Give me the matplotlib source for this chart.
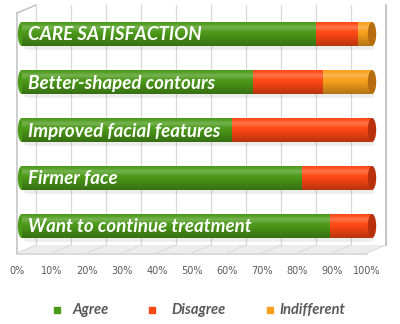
import numpy as np
import matplotlib.pyplot as plt
from matplotlib.patches import Ellipse, Polygon, FancyBboxPatch

# survey answers, percent of respondents
categories = ["CARE SATISFACTION", "Better-shaped contours", "Improved facial features",
              "Firmer face", "Want to continue treatment"]
agree = [84, 66, 60, 80, 88]
disagree = [12, 20, 40, 20, 12]
indifferent = [4, 14, 0, 0, 0]
series_names = ["Agree", "Disagree", "Indifferent"]
tick_labels = ["0%", "10%", "20%", "30%", "40%", "50%", "60%", "70%", "80%", "90%", "100%"]

colors = ["#4c9a1a", "#ff4914", "#f8a01c"]
cap_colors = ["#3a7a12", "#b8300c", "#b86c10"]

W, H = 400, 324
px_per_pct = 3.5
x0_px = 22


def X(px):
    return (px - x0_px) / px_per_pct


fig = plt.figure(figsize=(W / 100, H / 100), dpi=100)
ax = fig.add_axes([0, 0, 1, 1])
ax.set_xlim(X(0), X(W))
ax.set_ylim(H, 0)
ax.axis("off")

depth = 4.0   # 3d depth of the wall, in percent units
dy = 8        # and in pixels vertically
top, floor = 5, 245

# floor
floor_poly = Polygon([(X(17), floor + dy), (100 - 1.4, floor + dy), (100 + depth, floor),
                      (depth, floor)], closed=True, facecolor="#ececec", edgecolor="none", zorder=0)
ax.add_patch(floor_poly)
ax.plot([X(17), 100 - 1.4], [floor + dy + 0.5] * 2, color="#d4d4d4", lw=1.2, zorder=1)

# back wall gridlines and floor lines
for k in range(11):
    gx = k * 10 + depth
    ax.plot([gx, gx], [top, floor], color="#d9d9d9", lw=0.9, zorder=1)
    ax.plot([gx, gx - depth - 1.4], [floor, floor + dy], color="#dcdcdc", lw=0.8, zorder=1)
ax.plot([100 + depth] * 2, [top, floor], color="#bfbfbf", lw=1.2, zorder=1)
# left wall
ax.plot([X(17), X(17)], [top + dy, floor + dy], color="#c0c0c0", lw=1.1, zorder=1)
ax.plot([X(17), depth], [top + dy, top], color="#c0c0c0", lw=1.1, zorder=1)

# shading overlay for the cylinders
grad = np.linspace(0, 1, 64).reshape(-1, 1)
shade = np.zeros((64, 1, 4))
shade[..., 3] = np.clip(0.28 * (grad[:, 0] - 0.45) / 0.55, 0, None)[:, None]
hl = np.zeros((64, 1, 4))
hl[..., :3] = 1.0
hl[..., 3] = (0.22 * np.exp(-((grad[:, 0] - 0.22) / 0.12) ** 2))[:, None]

y_centers = [34, 82, 130, 178, 226]
bar_h = 24
cap_w = 2.4

for yc, name, vals in zip(y_centers, categories, zip(agree, disagree, indifferent)):
    # soft shadow under the bar
    ax.add_patch(FancyBboxPatch((0.5, yc + bar_h / 2 - 1), 100, 5,
                                boxstyle="round,pad=0,rounding_size=2",
                                facecolor="#000000", alpha=0.07, edgecolor="none", zorder=2))
    left = 0
    last = max(i for i, v in enumerate(vals) if v > 0)
    for i, v in enumerate(vals):
        if v == 0:
            continue
        b = ax.barh(yc, v, left=left, height=bar_h, color=colors[i], edgecolor="none", zorder=3)[0]
        for img in (shade, hl):
            im = ax.imshow(img, extent=(left, left + v, yc + bar_h / 2, yc - bar_h / 2),
                           aspect="auto", zorder=4, interpolation="bilinear")
            im.set_clip_path(b)
        left += v
    # rounded left end
    ax.add_patch(Ellipse((0, yc), cap_w, bar_h, facecolor=colors[0], edgecolor="none", zorder=3))
    # end cap
    ax.add_patch(Ellipse((100, yc), cap_w, bar_h, facecolor=cap_colors[last],
                         edgecolor="none", zorder=5))
    ax.text(X(28), yc + 1, name, color="white", fontsize=13.5, fontweight="bold",
            fontstyle="italic", family="Lato", va="center", ha="left", zorder=6)

# value axis labels
for k, lab in enumerate(tick_labels):
    ax.text(X(17) + k * 10, 271, lab, fontsize=7, color="#595959", ha="center", va="center")

# legend
legend_px = [(57, 73), (152, 171), (270, 279)]
for (sq, tx), c, name in zip(legend_px, colors, series_names):
    ax.scatter([X(sq)], [310], marker="s", s=24, color=c, zorder=6)
    ax.text(X(tx), 310, name, fontsize=10.5, fontweight="bold", fontstyle="italic",
            family="Lato", color="#595959", va="center", ha="left")

fig.savefig("out.png", dpi=100)
